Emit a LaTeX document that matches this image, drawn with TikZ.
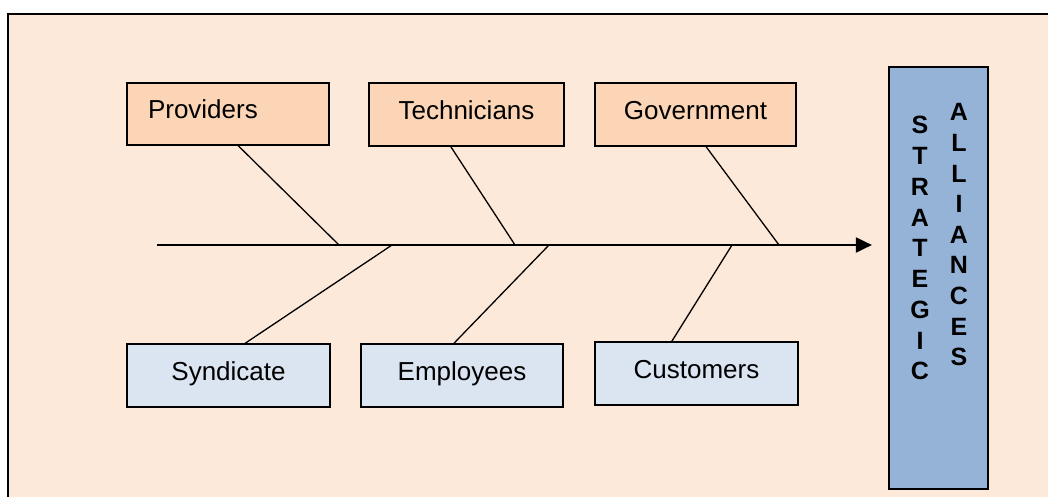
\documentclass[tikz,border=0pt]{standalone}
\usepackage{fontspec}
\setmainfont{Liberation Sans}
\usetikzlibrary{arrows.meta,calc}
\definecolor{bgpeach}{HTML}{FDE9D9}
\definecolor{topfill}{HTML}{FBD5B5}
\definecolor{botfill}{HTML}{DBE5F1}
\definecolor{stratfill}{HTML}{95B3D7}
\begin{document}
\begin{tikzpicture}[x=1pt,y=-1pt,
  box/.style={draw=black, line width=1.3pt, inner sep=0pt, minimum height=63pt,
    font=\fontsize{26}{31}\selectfont, text height=18.6pt, text depth=9pt},
  topbox/.style={box, fill=topfill},
  botbox/.style={box, fill=botfill},
  bone/.style={line width=1.3pt},
  spine/.style={line width=2pt, -{Triangle[length=16pt,width=15pt]}},
  vletter/.style={font=\fontsize{25}{30}\selectfont\bfseries, inner sep=0pt,
    text height=17.9pt, text depth=0pt}
]
\useasboundingbox (0,0) rectangle (1048,496);
\fill[white] (0,0) rectangle (1048,496);
\draw[line width=2pt, fill=bgpeach] (8,14) rectangle (1070,520);

% boxes
\node[topbox, minimum width=202pt, minimum height=62pt, text width=160pt, align=left] (prov) at (228,114) {Providers};
\node[topbox, minimum width=195pt] (tech) at (466.5,114.5) {Technicians};
\node[topbox, minimum width=201pt] (gov) at (695.5,114.5) {Government};
\node[botbox, minimum width=203pt] (synd) at (228.5,375.5) {Syndicate};
\node[botbox, minimum width=202pt] (emp) at (462,375.5) {Employees};
\node[botbox, minimum width=203pt] (cust) at (696.5,373.5) {Customers};

% strategic alliances
\node[draw=black, line width=2.2pt, fill=stratfill, minimum width=99pt, minimum height=422pt, inner sep=0pt] (strat) at (938.5,278) {};
\foreach \ch [count=\i from 0] in {S,T,R,A,T,E,G,I,C}
  \node[vletter] (s\i) at (920,125+30.75*\i) {\ch};
\foreach \ch [count=\i from 0] in {A,L,L,I,A,N,C,E,S}
  \node[vletter] (a\i) at (959,112+30.6*\i) {\ch};

% spine
\coordinate (sp0) at (157,245);
\draw[spine, shorten >=16pt] (sp0) -- (sp0 -| strat.west);

% joints on spine
\coordinate (j1) at (339,245);
\coordinate (j2) at (515,245);
\coordinate (j3) at (779,245);
\coordinate (k1) at (392,245);
\coordinate (k2) at (549,245);
\coordinate (k3) at (732,245);

% bones
\draw[bone] ($(prov.south west)!0.55!(prov.south east)$) -- (j1);
\draw[bone] ($(tech.south west)!0.42!(tech.south east)$) -- (j2);
\draw[bone] ($(gov.south west)!0.552!(gov.south east)$) -- (j3);
\draw[bone] ($(synd.north west)!0.581!(synd.north east)$) -- (k1);
\draw[bone] ($(emp.north west)!0.46!(emp.north east)$) -- (k2);
\draw[bone] ($(cust.north west)!0.379!(cust.north east)$) -- (k3);
\end{tikzpicture}
\end{document}
